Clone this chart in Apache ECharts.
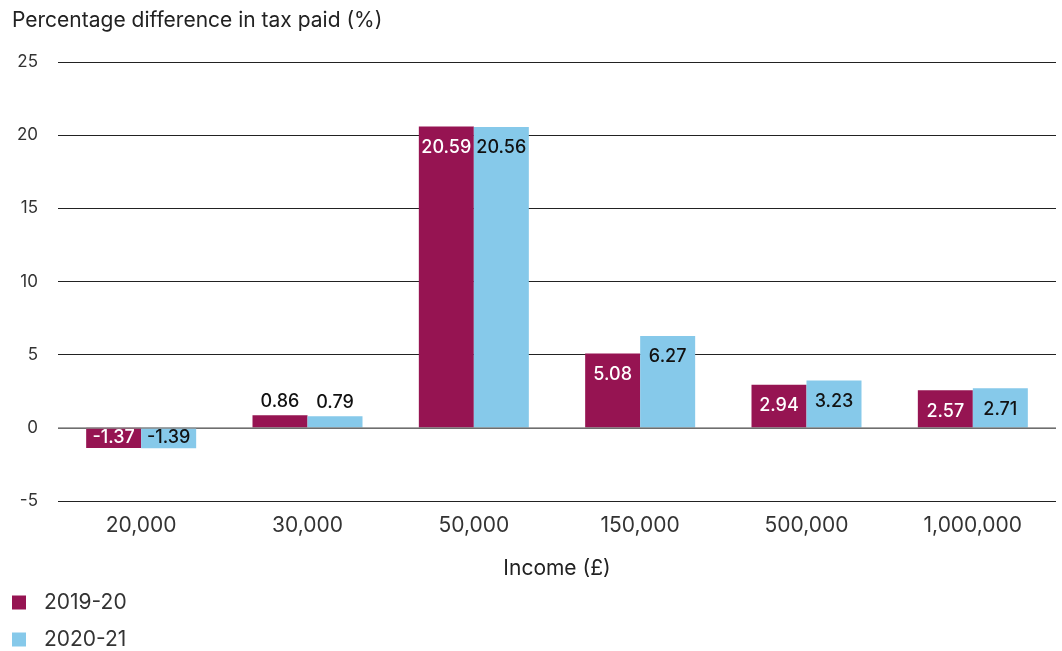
<!DOCTYPE html>
<html>
<head>
<meta charset="utf-8">
<script src="https://cdn.jsdelivr.net/npm/echarts@6/dist/echarts.min.js"></script>
<style>
  html, body { margin: 0; padding: 0; background: #fff; }
  #chart { width: 1062px; height: 651px; }
</style>
</head>
<body>
<div id="chart"></div>
<script>
var categories = ['20,000', '30,000', '50,000', '150,000', '500,000', '1,000,000'];
var seriesNames = ['2019-20', '2020-21'];
var values2019 = [-1.37, 0.86, 20.59, 5.08, 2.94, 2.57];
var values2020 = [-1.39, 0.79, 20.56, 6.27, 3.23, 2.71];
var yTicks = [-5, 0, 5, 10, 15, 20, 25];

(function() {
  var myChart = echarts.init(document.getElementById('chart'));
  var font = 'Inter, Liberation Sans, Arial, sans-serif';

  // small bars get their label on top, negatives inside, the rest inside near the top
  function toData(arr, textColor) {
    return arr.map(function(v) {
      var pos = v < 0 ? 'inside' : (v < 1.5 ? 'top' : 'insideTop');
      return {
        value: v,
        label: {
          position: pos,
          distance: pos === 'insideTop' ? 12 : 5,
          color: pos === 'top' ? '#111' : textColor
        }
      };
    });
  }

  var option = {
    color: ['#961452', '#86C9EA'],
    textStyle: { fontFamily: font },
    title: {
      text: 'Percentage difference in tax paid (%)',
      left: 7,
      top: 5,
      textStyle: { fontSize: 21, fontWeight: 'normal', color: '#222', fontFamily: font }
    },
    legend: {
      orient: 'vertical',
      left: 12,
      top: 592,
      padding: 0,
      itemWidth: 14,
      itemHeight: 14,
      itemGap: 16,
      icon: 'rect',
      textStyle: { fontSize: 21, color: '#333', padding: [0, 0, 0, 13] },
      data: seriesNames
    },
    grid: {
      left: 58,
      right: 6,
      top: 62,
      bottom: 150
    },
    xAxis: {
      type: 'category',
      data: categories,
      name: 'Income (£)',
      nameLocation: 'middle',
      nameGap: 57,
      nameTextStyle: { fontSize: 21, color: '#222' },
      axisLine: { show: false, onZero: false },
      axisTick: { show: false },
      axisLabel: { fontSize: 21, color: '#333', margin: 14 }
    },
    yAxis: {
      type: 'value',
      min: yTicks[0],
      max: yTicks[yTicks.length - 1],
      interval: 5,
      axisLine: { show: false },
      axisTick: { show: false },
      axisLabel: { fontSize: 17, color: '#333', margin: 20 },
      splitLine: { lineStyle: { color: '#222', width: 1 } }
    },
    series: [
      {
        name: seriesNames[0],
        type: 'bar',
        barWidth: 55,
        barGap: '0%',
        label: { show: true, fontSize: 18, fontWeight: 500 },
        data: toData(values2019, '#fff'),
        markLine: {
          silent: true,
          symbol: 'none',
          label: { show: false },
          lineStyle: { color: '#888', type: 'solid', width: 1.5 },
          data: [{ yAxis: 0 }]
        }
      },
      {
        name: seriesNames[1],
        type: 'bar',
        barWidth: 55,
        label: { show: true, fontSize: 18, fontWeight: 500 },
        data: toData(values2020, '#111')
      }
    ]
  };

  myChart.setOption(option);
})();
</script>
</body>
</html>
